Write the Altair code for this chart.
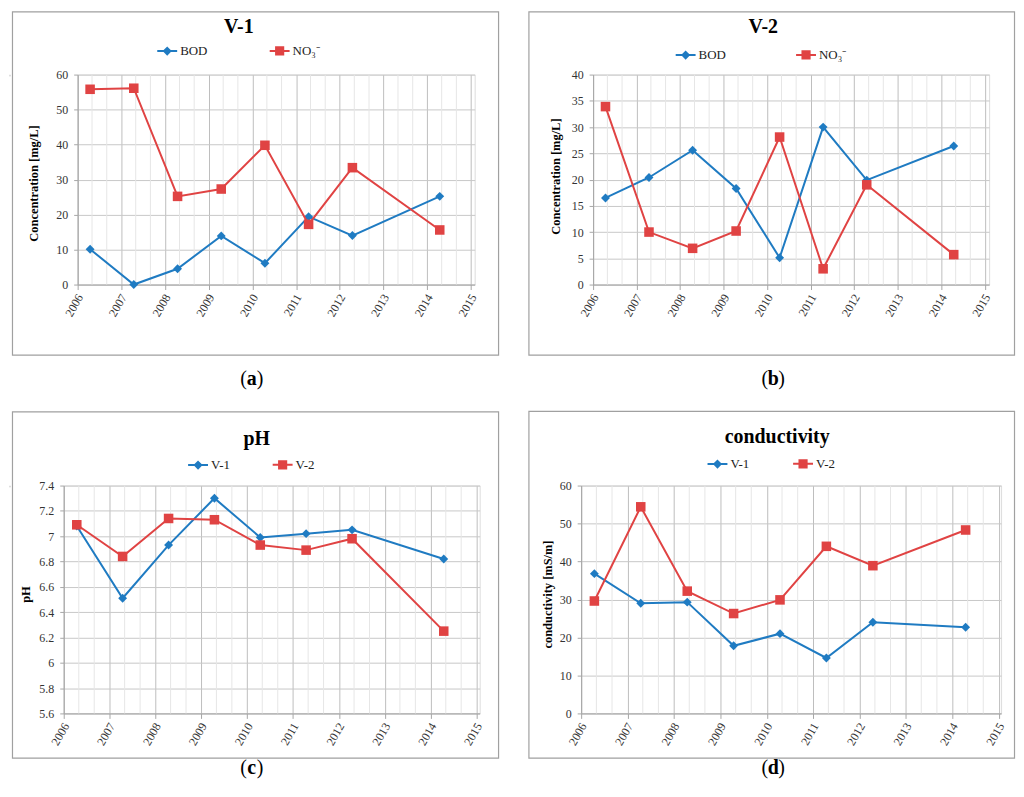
import altair as alt
import pandas as pd

# ---- data ----
dates = ["2006-04-15", "2007-04-15", "2008-04-15", "2009-04-15",
         "2010-04-15", "2011-04-15", "2012-04-15", "2014-04-15"]
v1_bod = [10.1, 0.0, 4.5, 13.9, 6.1, 19.4, 14.0, 25.2]
v1_no3 = [55.8, 56.1, 25.2, 27.3, 39.8, 17.2, 33.4, 15.6]
v2_bod = [16.5, 20.4, 25.6, 18.3, 5.1, 30.0, 19.9, 26.4]
v2_no3 = [33.9, 10.0, 6.9, 10.2, 28.1, 3.0, 19.0, 5.7]
ph_v1 = [7.08, 6.51, 6.93, 7.30, 6.99, 7.02, 7.05, 6.82]
ph_v2 = [7.09, 6.84, 7.14, 7.13, 6.93, 6.89, 6.98, 6.25]
cond_v1 = [36.8, 29.0, 29.3, 17.8, 21.0, 14.6, 24.0, 22.7]
cond_v2 = [29.6, 54.4, 32.2, 26.3, 29.9, 44.0, 38.9, 48.3]

major_years = list(range(2006, 2016))
minor_dates = []
for yy in range(2006, 2015):
    minor_dates += [f"{yy}-05-01", f"{yy}-09-01"]

conc_ticks = [0, 10, 20, 30, 40, 50, 60]
conc2_ticks = [0, 5, 10, 15, 20, 25, 30, 35, 40]
ph_ticks = [5.6, 5.8, 6.0, 6.2, 6.4, 6.6, 6.8, 7.0, 7.2, 7.4]

SERIF = "Liberation Serif"
BLUE = "#1f7bc2"
RED = "#e04343"
AXC = "#a6a6a6"
DIAMOND_LEG = "M-1,0H1M0,-0.32L0.32,0L0,0.32L-0.32,0Z"
SQUARE_LEG = "M-1,0H1M-0.36,-0.36H0.36V0.36H-0.36Z"

one = pd.DataFrame({"k": [0]})
IND = dict(fill="independent", stroke="independent", shape="independent")


def make_panel(g):
    W, H = g["W"], g["H"]
    xscale = alt.Scale(domain=[alt.DateTime(year=2006, month=1, date=1),
                               alt.DateTime(year=2015, month=g["endm"], date=g["endd"])])
    xaxis = alt.Axis(values=[alt.DateTime(year=y, month=1, date=1) for y in major_years],
                     format="%Y", labelAngle=300, labelAlign="right", labelBaseline="middle",
                     labelFont=SERIF, labelFontSize=12, labelColor="#333", labelPadding=5,
                     labelOffset=2, tickSize=5, tickColor=AXC, domainColor=AXC,
                     gridColor="#bdbdbd", grid=True, title=None, labelOverlap=False,
                     labelFlush=False)
    yscale = alt.Scale(domain=g["ydom"], nice=False, zero=False)
    yaxis = alt.Axis(values=g["yvals"], format=g["yfmt"], title=g["ytitle"],
                     titleFont=SERIF, titleFontSize=12.5, titleFontWeight="bold",
                     titleColor="#000", titleX=g["tx"], titleY=g["ty"], titleAngle=270,
                     titleBaseline="middle", titleAlign="center",
                     labelFont=SERIF, labelFontSize=12, labelColor="#333", labelPadding=6,
                     tickSize=4, tickColor=AXC, domainColor=AXC, gridColor="#c8c8c8",
                     labelOverlap=False, labelFlush=False)
    X = alt.X("d:T", scale=xscale, axis=xaxis)
    Y = alt.Y("v:Q", scale=yscale, axis=yaxis)

    cx1, cx2, cy1, cy2 = g["cell"]
    cell = alt.Chart(one).mark_rect(fillOpacity=0, strokeWidth=0).encode(
        x=alt.value(cx1), x2=alt.value(cx2), y=alt.value(cy1), y2=alt.value(cy2))
    fx1, fx2, fy1, fy2 = g["frame"]
    frame = alt.Chart(one).mark_rect(fillOpacity=0, stroke="#a0a0a0", strokeWidth=1.2).encode(
        x=alt.value(fx1), x2=alt.value(fx2), y=alt.value(fy1), y2=alt.value(fy2))

    minor = alt.Chart(pd.DataFrame({"d": minor_dates})).mark_rule(
        color="#e6e6e6", strokeWidth=1).encode(x=X, y=alt.value(0), y2=alt.value(H))

    layers = [cell, frame, minor]
    names = g["names"]
    cols = [BLUE, RED]
    shapes = ["diamond", "square"]
    sizes = [80, 92]
    for vals, c, shp, sz in zip(g["series"], cols, shapes, sizes):
        df = pd.DataFrame({"d": dates, "v": vals})
        layers.append(alt.Chart(df).mark_line(color=c, strokeWidth=2).encode(x=X, y=Y))
        layers.append(alt.Chart(df).mark_point(shape=shp, filled=True, size=sz, color=c,
                                               opacity=1).encode(x=X, y=Y))

    leg = alt.Legend(orient="none", legendX=g["lx"], legendY=g["ly"], direction="horizontal",
                     title=None, symbolSize=400, symbolStrokeWidth=2, labelFont=SERIF,
                     labelFontSize=13, labelColor="#222", columnPadding=g["cp"],
                     labelOffset=2, padding=0)
    legdf = pd.DataFrame({"s": names})
    legend_layer = alt.Chart(legdf).transform_filter("false").mark_point(
        filled=True, opacity=1).encode(
        fill=alt.Fill("s:N", scale=alt.Scale(domain=names, range=cols), legend=leg),
        stroke=alt.Stroke("s:N", scale=alt.Scale(domain=names, range=cols), legend=leg),
        shape=alt.Shape("s:N", scale=alt.Scale(domain=names, range=[DIAMOND_LEG, SQUARE_LEG]),
                        legend=leg))
    layers.append(legend_layer)

    tx, ty = g["title_pos"]
    layers.append(alt.Chart(one).mark_text(font=SERIF, fontSize=20, fontWeight="bold",
                                           color="#000", align="center", baseline="middle").encode(
        x=alt.value(tx), y=alt.value(ty), text=alt.value(g["title"])))

    kx, ky = g["cap_pos"]
    layers.append(alt.Chart(one).mark_text(font=SERIF, fontSize=20, color="#000",
                                           align="right", baseline="middle").encode(
        x=alt.value(kx - 5), y=alt.value(ky), text=alt.value("(")))
    layers.append(alt.Chart(one).mark_text(font=SERIF, fontSize=20, fontWeight="bold",
                                           color="#000", align="center", baseline="middle").encode(
        x=alt.value(kx), y=alt.value(ky), text=alt.value(g["cap"])))
    layers.append(alt.Chart(one).mark_text(font=SERIF, fontSize=20, color="#000",
                                           align="left", baseline="middle").encode(
        x=alt.value(kx + 5), y=alt.value(ky), text=alt.value(")")))

    return alt.layer(*layers).properties(width=W, height=H)


pa = make_panel(dict(W=399, H=211, endm=2, endd=1, ydom=[0, 60], yvals=conc_ticks, yfmt="d",
                     ytitle="Concentration [mg/L]", tx=-44, ty=109,
                     cell=(-66, 451, -64, 336), frame=(-65.5, 423, -63, 282),
                     names=["BOD", "NO₃⁻"], series=[v1_bod, v1_no3],
                     lx=79, ly=-35, cp=58, title="V-1", title_pos=(162, -48),
                     cap="a", cap_pos=(175, 306)))
pb = make_panel(dict(W=398, H=211, endm=2, endd=6, ydom=[0, 40], yvals=conc2_ticks, yfmt="d",
                     ytitle="Concentration [mg/L]", tx=-38, ty=102,
                     cell=(-65, 424, -64, 336), frame=(-64.5, 423.5, -63, 282),
                     names=["BOD", "NO₃⁻"], series=[v2_bod, v2_no3],
                     lx=82, ly=-31, cp=66, title="V-2", title_pos=(171, -48),
                     cap="b", cap_pos=(181, 306)))
pc = make_panel(dict(W=418, H=229, endm=1, endd=26, ydom=[5.6, 7.4], yvals=ph_ticks, yfmt=".1~f",
                     ytitle="pH", tx=-38, ty=109,
                     cell=(-52, 465, -75, 296), frame=(-51.5, 437, -74, 274),
                     names=["V-1", "V-2"], series=[ph_v1, ph_v2],
                     lx=124, ly=-32, cp=38, title="pH", title_pos=(194, -47),
                     cap="c", cap_pos=(189, 284)))
pd_ = make_panel(dict(W=422, H=229, endm=1, endd=19, ydom=[0, 60], yvals=conc_ticks, yfmt="d",
                      ytitle="conductivity [mS/m]", tx=-34, ty=109,
                      cell=(-53, 436, -75, 296), frame=(-52.5, 435.5, -74.5, 274),
                      names=["V-1", "V-2"], series=[cond_v1, cond_v2],
                      lx=126, ly=-33, cp=39, title="conductivity", title_pos=(197, -49),
                      cap="d", cap_pos=(193, 284)))


def spacer():
    return alt.Chart(one).mark_rect(fillOpacity=0, strokeWidth=0).encode(
        x=alt.value(0), x2=alt.value(1), y=alt.value(0), y2=alt.value(1)).properties(
        width=1, height=1)


row1 = alt.hconcat(spacer(), pa, pb, spacing=0).resolve_scale(**IND).resolve_legend(**IND)
row2 = alt.hconcat(spacer(), pc, pd_, spacing=0).resolve_scale(**IND).resolve_legend(**IND)
chart = alt.vconcat(row1, row2, spacing=0).resolve_scale(**IND).resolve_legend(**IND).properties(
    padding=0).configure_view(stroke=None).configure(background="white")

chart.save("out.html", embed_options={"renderer": "svg", "actions": False})
